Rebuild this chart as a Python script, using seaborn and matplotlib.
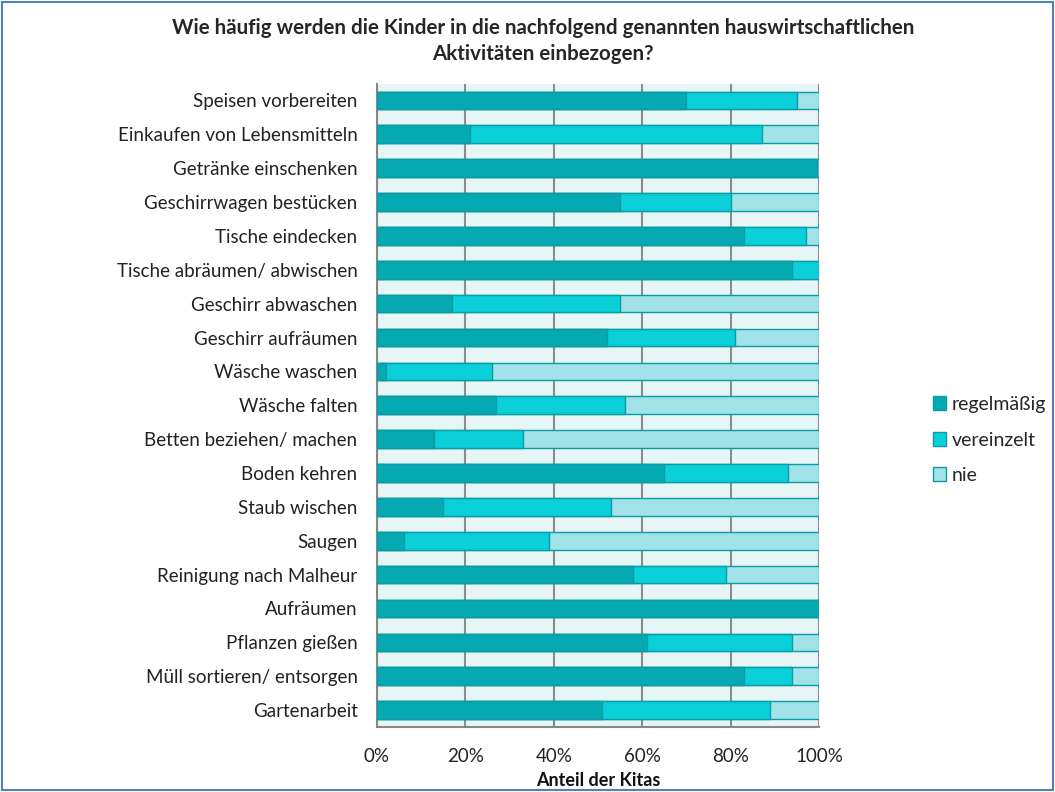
import matplotlib
matplotlib.use("Agg")
import matplotlib.pyplot as plt
import seaborn as sns
import numpy as np
import pandas as pd
from matplotlib.patches import Patch, Rectangle

categories = ["Speisen vorbereiten", "Einkaufen von Lebensmitteln", "Getränke einschenken",
              "Geschirrwagen bestücken", "Tische eindecken", "Tische abräumen/ abwischen",
              "Geschirr abwaschen", "Geschirr aufräumen", "Wäsche waschen", "Wäsche falten",
              "Betten beziehen/ machen", "Boden kehren", "Staub wischen", "Saugen",
              "Reinigung nach Malheur", "Aufräumen", "Pflanzen gießen",
              "Müll sortieren/ entsorgen", "Gartenarbeit"]
regelmaessig = [70, 21, 99.5, 55, 83, 94, 17, 52, 2, 27, 13, 65, 15, 6, 58, 100, 61, 83, 51]
vereinzelt = [25, 66, 0, 25, 14, 6, 38, 29, 24, 29, 20, 28, 38, 33, 21, 0, 33, 11, 38]
nie = [5, 13, 0.5, 20, 3, 0, 45, 19, 74, 44, 67, 7, 47, 61, 21, 0, 6, 6, 11]
series_names = ["regelmäßig", "vereinzelt", "nie"]
x_ticks = [0, 20, 40, 60, 80, 100]
x_ticklabels = ["0%", "20%", "40%", "60%", "80%", "100%"]

colors = ["#05A9B1", "#0BCFD9", "#A0E2E8"]
edge = "#0A9CA4"

sns.set_theme(style="white")
plt.rcParams["font.family"] = ["Lato", "DejaVu Sans"]

fig = plt.figure(figsize=(10.55, 7.92), dpi=100)
ax = fig.add_axes([377/1055, 1-727/792, (819-377)/1055, (727-83.5)/792])
ax.set_facecolor("#E6F6F7")

r = np.array(regelmaessig, dtype=float)
v = np.array(vereinzelt, dtype=float)
n = np.array(nie, dtype=float)
df = pd.DataFrame({"cat": categories, "c1": r, "c2": r + v, "c3": r + v + n})

for col, c in zip(["c3", "c2", "c1"], colors[::-1]):
    sns.barplot(data=df, x=col, y="cat", orient="h", color=c, width=0.52,
                edgecolor=edge, linewidth=1.0, saturation=1, ax=ax, zorder=3)

ax.set_xlim(0, 100)
ax.set_ylim(len(categories) - 0.5, -0.5)
ax.set_xticks(x_ticks)
ax.set_xticklabels(x_ticklabels, fontsize=13.5, color="#222222")
ax.set_yticks(range(len(categories)))
ax.set_yticklabels(categories, fontsize=13.5, color="#222222")
ax.set_yticks(np.arange(-0.5, len(categories), 1), minor=True)
ax.tick_params(axis="y", which="major", length=0, pad=14)
ax.tick_params(axis="y", which="minor", length=6, color="#888888", width=1.2, direction="out")
ax.tick_params(axis="x", which="major", length=6, color="#888888", width=1.2, direction="out", pad=9)
ax.grid(axis="x", color="#8C8C8C", linewidth=1.5, zorder=1)
ax.set_axisbelow(True)
for s in ["top", "right"]:
    ax.spines[s].set_visible(False)
for s in ["left", "bottom"]:
    ax.spines[s].set_color("#888888")
    ax.spines[s].set_linewidth(1.5)
ax.set_ylabel("")
ax.set_xlabel("")
fig.text(598/1055, 1-780/792, "Anteil der Kitas", ha="center", va="center",
         fontsize=13, fontweight="bold", color="#111111")

fig.text(543/1055, 1-28/792, "Wie häufig werden die Kinder in die nachfolgend genannten hauswirtschaftlichen",
         ha="center", va="center", fontsize=14.8, fontweight="bold")
fig.text(543/1055, 1-54/792, "Aktivitäten einbezogen?", ha="center", va="center",
         fontsize=14.8, fontweight="bold")

handles = [Patch(facecolor=c, edgecolor=edge, linewidth=1.0) for c in colors]
fig.legend(handles, series_names, loc="center left", bbox_to_anchor=(915/1055, 1-440/792),
           frameon=False, fontsize=14, handlelength=0.7, handleheight=0.7,
           handletextpad=0.3, labelspacing=0.95)

fig.patches.append(Rectangle((0.002, 0.002), 0.996, 0.996, transform=fig.transFigure,
                             fill=False, edgecolor="#4F81BD", linewidth=1.5))

fig.savefig("out.png", dpi=100)
